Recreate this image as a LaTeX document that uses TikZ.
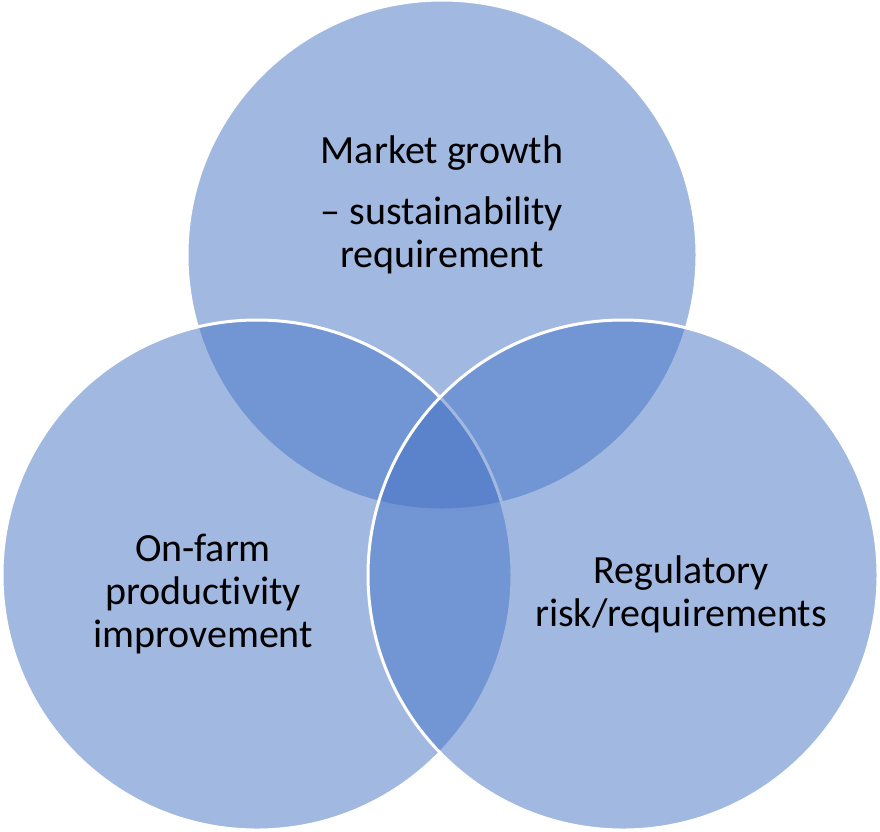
\documentclass[tikz,border=0pt]{standalone}
\usepackage{fontspec}
\setmainfont{Carlito}[Ligatures=TeX, RawFeature={-liga;-clig;-calt}]
\usetikzlibrary{positioning}
\definecolor{vennblue}{RGB}{68,114,196}
\tikzstyle{venn}=[circle, minimum size=510pt, inner sep=0pt, fill=vennblue, fill opacity=.5, draw=white, line width=3pt]
\tikzstyle{lbl}=[align=center, inner sep=0pt, font=\fontsize{40}{43}\selectfont]

\begin{document}
\begin{tikzpicture}[x=1pt, y=-1pt]
  \useasboundingbox (0,0) rectangle (880,831);
  \node[venn] (market) at (442,255) {};
  \node[venn] (farm) at (257,575) {};
  \node[venn] (reg) at (623,575) {};
  \node[lbl] (marketText) at (442,205) {Market growth\\[18pt] – sustainability\\ requirement};
  \node[lbl] (farmText) at (203,594) {On-farm\\ productivity\\ improvement};
  \node[lbl] (regText) at (681,594) {Regulatory\\ risk/requirements};
\end{tikzpicture}
\end{document}
